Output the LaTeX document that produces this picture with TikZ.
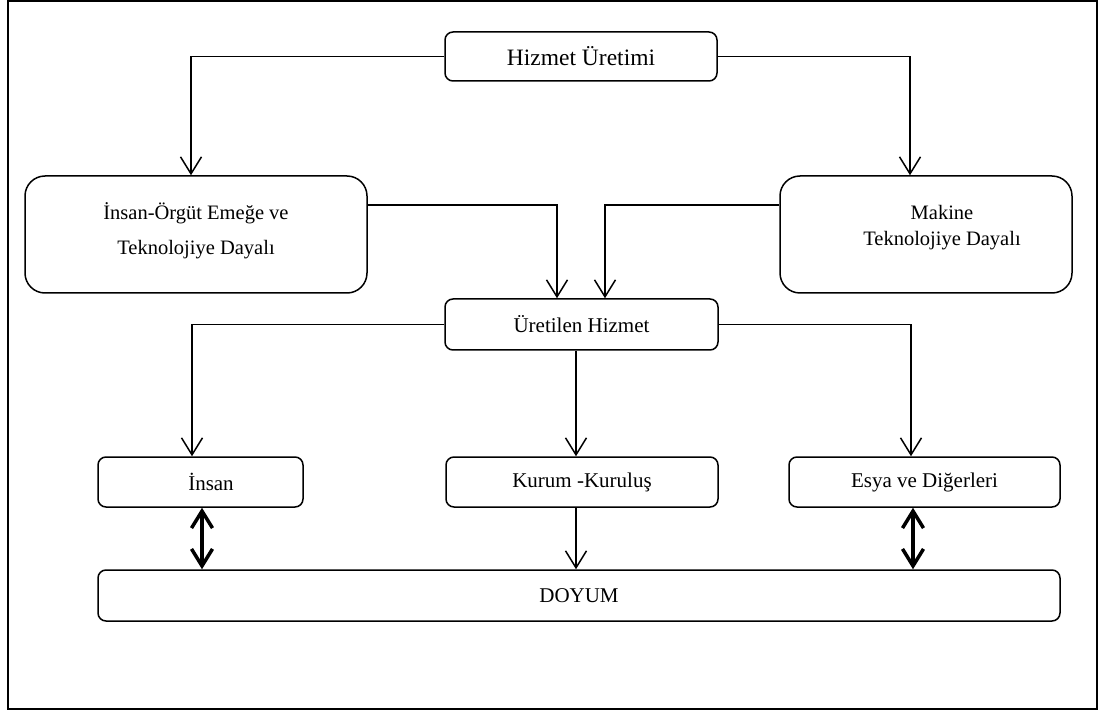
\documentclass[tikz,border=0pt]{standalone}
\usepackage{fontspec}
\setmainfont{Liberation Serif}
\usepackage{tikz}
\usetikzlibrary{arrows.meta}

\begin{document}
\begin{tikzpicture}[x=1pt,y=-1pt]

\tikzset{box/.style = {shape=rectangle,draw,line width=1.5pt,rounded corners=8pt,inner sep=0pt,font=\fontsize{21}{25}\selectfont}}
\tikzset{bigbox/.style = {box,rounded corners=20pt,minimum width=#1,minimum height=117pt}}
\tikzset{edge/.style = {-{Straight Barb[length=17pt,width=21pt]},line width=1.5pt}}
\tikzset{both/.style = {{Straight Barb[length=17pt,width=21pt]}-{Straight Barb[length=17pt,width=21pt]},line width=3.5pt}}

\useasboundingbox (0,0) rectangle (1101,711);
\draw[line width=2pt] (8,1.5) rectangle (1097,709);

% boxes
\node[box,minimum width=272pt,minimum height=49pt,font=\fontsize{23.5}{28}\selectfont] (uretim) at (581,56.5) {Hizmet Üretimi};
\node[bigbox=342pt] (orgut) at (196,234.5) {};
\node at ([yshift=4pt]orgut.center) [align=center,font=\fontsize{20.5}{35}\selectfont] {İnsan-Örgüt Emeğe ve\\Teknolojiye Dayalı};
\node[bigbox=292pt] (makine) at (926,234.5) {};
\node at ([xshift=16pt,yshift=7pt]makine.center) [align=center,font=\fontsize{20.5}{26}\selectfont] {Makine\\Teknolojiye Dayalı};
\node[box,minimum width=273pt,minimum height=51pt] (uretilen) at (581.5,324.5) {Üretilen Hizmet};

\node[box,minimum width=205pt,minimum height=50pt] (insan) at (200.5,482) {\hspace{21pt}İnsan};
\node[box,minimum width=272pt,minimum height=50pt] (kurum) at (582,482) {Kurum -Kuruluş};
\node[box,minimum width=271pt,minimum height=50pt] (esya) at (924.5,482) {Esya ve Diğerleri};
\node[box,minimum width=962pt,minimum height=51pt] (doyum) at (579,595.5) {DOYUM};

% edges
\draw[edge] (uretim.west) -| ([xshift=-5pt]orgut.north);
\draw[edge] (uretim.east) -| ([xshift=-16pt]makine.north);
\draw[edge] ([yshift=29.5pt]orgut.east) -| ([xshift=-24.5pt]uretilen.north);
\draw[edge] ([yshift=29.5pt]makine.west) -| ([xshift=23.5pt]uretilen.north);
\draw[edge] (uretilen.west) -| ([xshift=-8.5pt]insan.north);
\draw[edge] (uretilen.east) -| ([xshift=-13.5pt]esya.north);
\draw[edge] ([xshift=-6pt]kurum.north |- uretilen.south) -- ([xshift=-6pt]kurum.north);
\draw[edge] ([xshift=-6pt]kurum.south) -- ([xshift=-6pt]kurum.south |- doyum.north);
\draw[both] ([xshift=1.5pt]insan.south) -- ([xshift=1.5pt]insan.south |- doyum.north);
\draw[both] ([xshift=-11.5pt]esya.south) -- ([xshift=-11.5pt]esya.south |- doyum.north);

\end{tikzpicture}
\end{document}
